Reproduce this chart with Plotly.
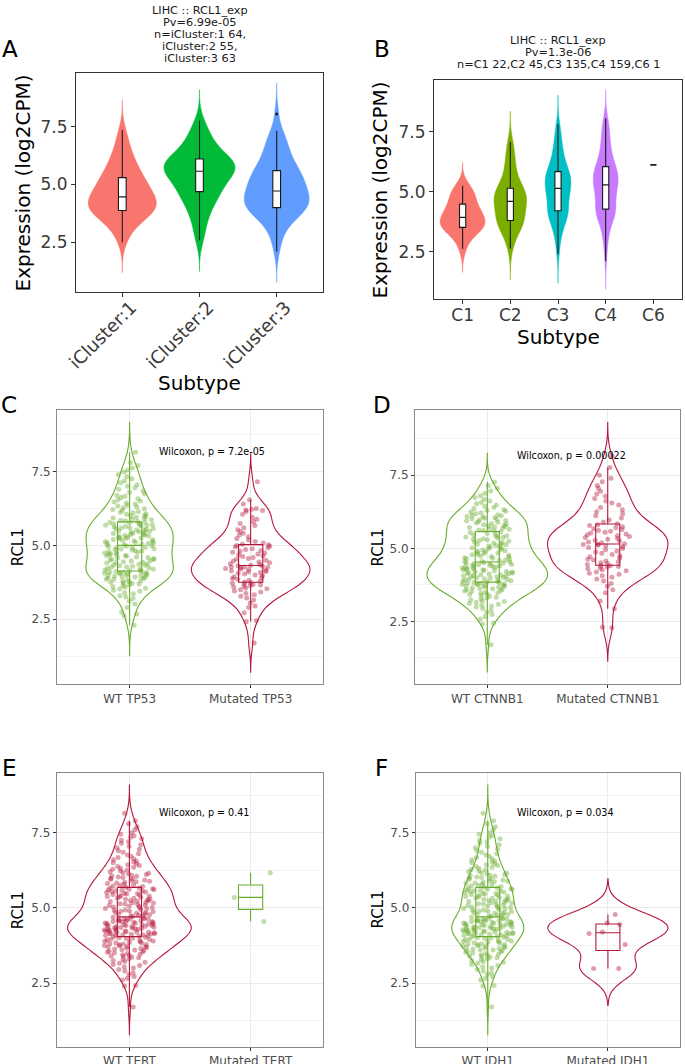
import numpy as np
import plotly.graph_objects as go

W, H = 685, 1064
FONT = "DejaVu Sans"

# ---------------- data ----------------
A_CATS = ["iCluster:1", "iCluster:2", "iCluster:3"]
A_ICL1 = [2.50, 2.72, 2.95, 3.10, 3.22, 3.35, 3.42, 3.50, 3.56, 3.62, 3.68, 3.72, 3.76, 3.79, 3.82, 3.85,
          3.88, 3.92, 3.96, 4.00, 4.04, 4.08, 4.11, 4.15, 4.19, 4.23, 4.27, 4.31, 4.35, 4.39, 4.42, 4.45,
          4.48, 4.53, 4.58, 4.63, 4.68, 4.73, 4.79, 4.85, 4.90, 4.96, 5.02, 5.07, 5.12, 5.18, 5.23, 5.28,
          5.34, 5.42, 5.50, 5.58, 5.67, 5.76, 5.86, 5.95, 6.05, 6.18, 6.30, 6.45, 6.62, 6.85, 7.10, 7.35]
A_ICL2 = [2.58, 2.85, 3.20, 3.45, 3.65, 3.82, 3.98, 4.10, 4.22, 4.33, 4.45, 4.55, 4.63, 4.68, 4.70,
          4.80, 4.90, 4.98, 5.06, 5.13, 5.20, 5.27, 5.33, 5.39, 5.44, 5.49, 5.53, 5.57,
          5.61, 5.65, 5.69, 5.73, 5.77, 5.81, 5.85, 5.89, 5.93, 5.97, 6.01, 6.05, 6.08, 6.12,
          6.18, 6.25, 6.33, 6.42, 6.52, 6.62, 6.73, 6.85, 6.98, 7.12, 7.28, 7.50, 7.75]
A_ICL3 = [2.10, 2.55, 2.85, 3.05, 3.22, 3.36, 3.48, 3.58, 3.66, 3.74, 3.80, 3.85, 3.89, 3.93, 3.96, 3.99, 4.01,
          4.06, 4.11, 4.16, 4.21, 4.26, 4.31, 4.36, 4.41, 4.46, 4.51, 4.56, 4.61, 4.65, 4.69, 4.72,
          4.77, 4.83, 4.89, 4.95, 5.01, 5.07, 5.13, 5.19, 5.25, 5.31, 5.37, 5.43, 5.49, 5.54, 5.58, 5.62,
          5.70, 5.80, 5.90, 6.00, 6.10, 6.20, 6.32, 6.44, 6.56, 6.70, 6.85, 7.00, 7.15, 7.32, 8.05]
A_TITLE = ["LIHC :: RCL1_exp", "Pv=6.99e-05", "n=iCluster:1 64,", "iCluster:2 55,", "iCluster:3 63"]

B_CATS = ["C1", "C2", "C3", "C4", "C6"]
B_C1 = [2.62, 3.05, 3.25, 3.38, 3.46, 3.50, 3.55, 3.65, 3.74, 3.82, 3.89, 3.97, 4.05, 4.14, 4.25, 4.38,
        4.52, 4.65, 4.80, 4.95, 5.10, 5.25]
B_C2 = [2.62, 2.95, 3.15, 3.30, 3.42, 3.52, 3.60, 3.66, 3.71, 3.75, 3.78, 3.80,
        3.88, 3.97, 4.06, 4.14, 4.22, 4.30, 4.38, 4.45, 4.51, 4.56, 4.60,
        4.65, 4.70, 4.75, 4.80, 4.86, 4.92, 4.98, 5.03, 5.08, 5.12, 5.15,
        5.25, 5.38, 5.52, 5.68, 5.85, 6.02, 6.20, 6.40, 6.62, 6.85, 7.09]
B_C3 = [2.39, 2.80, 3.05, 3.25, 3.40, 3.52, 3.62, 3.71, 3.79, 3.86, 3.93, 3.99, 4.04, 4.09, 4.13, 4.17, 4.20, 4.22,
        4.28, 4.35, 4.42, 4.49, 4.56, 4.63, 4.70, 4.76, 4.82, 4.88, 4.94, 4.99, 5.04, 5.08, 5.11, 5.14,
        5.18, 5.22, 5.27, 5.32, 5.37, 5.42, 5.47, 5.52, 5.56, 5.60, 5.64, 5.68, 5.72, 5.76, 5.80, 5.83, 5.85,
        5.92, 6.00, 6.08, 6.16, 6.25, 6.34, 6.44, 6.54, 6.65, 6.77, 6.90, 7.05, 7.22, 7.40, 7.60, 7.82]
B_C4 = [2.11, 2.60, 2.90, 3.10, 3.28, 3.42, 3.55, 3.65, 3.74, 3.82, 3.89, 3.95, 4.01, 4.06, 4.10, 4.14,
        4.18, 4.21, 4.24, 4.26, 4.28,
        4.34, 4.40, 4.46, 4.52, 4.58, 4.64, 4.70, 4.76, 4.82, 4.88, 4.94, 5.00, 5.05, 5.10, 5.14, 5.18,
        5.22, 5.25, 5.27, 5.31,
        5.35, 5.39, 5.43, 5.47, 5.51, 5.55, 5.59, 5.63, 5.67, 5.71, 5.75, 5.79, 5.83, 5.87, 5.91, 5.95,
        5.99, 6.02, 6.04, 6.08,
        6.15, 6.22, 6.30, 6.38, 6.46, 6.55, 6.64, 6.73, 6.83, 6.93, 7.04, 7.15, 7.27, 7.40, 7.53, 7.67,
        7.80, 7.93, 8.07]
B_C6 = [6.12]
B_TITLE = ["LIHC :: RCL1_exp", "Pv=1.3e-06", "n=C1 22,C2 45,C3 135,C4 159,C6 1"]

C_CATS = ["WT TP53", "Mutated TP53"]
C_WT = [2.30, 2.62, 2.68, 2.75, 2.90, 3.02, 3.12, 3.20, 3.25, 3.30, 3.36, 3.40, 3.45, 3.48, 3.52, 3.55,
        3.58, 3.61, 3.64, 3.66, 3.69, 3.71, 3.73, 3.75, 3.77, 3.79, 3.81, 3.83, 3.85, 3.86, 3.88, 3.90,
        3.91, 3.93, 3.94, 3.96, 3.97, 3.99, 4.00, 4.01, 4.03, 4.04, 4.05, 4.06, 4.07, 4.08, 4.09, 4.10,
        4.11, 4.12, 4.14,
        4.15, 4.17, 4.19, 4.20, 4.22, 4.24, 4.26, 4.27, 4.29, 4.31, 4.33, 4.34, 4.36, 4.38, 4.40, 4.42,
        4.43, 4.45, 4.47, 4.49, 4.50, 4.52, 4.54, 4.56, 4.58, 4.59, 4.61, 4.63, 4.65, 4.66, 4.68, 4.70,
        4.72, 4.74, 4.75, 4.77, 4.79, 4.81, 4.82, 4.84, 4.86, 4.88, 4.89, 4.91, 4.93, 4.94, 4.96, 4.97,
        4.99, 5.01,
        5.03, 5.04, 5.06, 5.08, 5.09, 5.11, 5.12, 5.14, 5.16, 5.17, 5.19, 5.20, 5.22, 5.24, 5.25, 5.27,
        5.28, 5.30, 5.32, 5.33, 5.35, 5.36, 5.38, 5.40, 5.41, 5.43, 5.44, 5.46, 5.48, 5.49, 5.51, 5.52,
        5.54, 5.56, 5.57, 5.59, 5.60, 5.62, 5.64, 5.65, 5.67, 5.68, 5.70, 5.71, 5.73, 5.74, 5.76, 5.77,
        5.79, 5.81,
        5.83, 5.85, 5.87, 5.89, 5.91, 5.93, 5.95, 5.97, 6.00, 6.02, 6.05, 6.07, 6.10, 6.12, 6.15, 6.18,
        6.21, 6.24, 6.27, 6.30, 6.33, 6.36, 6.40, 6.43, 6.47, 6.50, 6.54, 6.58, 6.62, 6.66, 6.70, 6.75,
        6.80, 6.85, 6.90, 6.95, 7.00, 7.05, 7.12, 7.18, 7.25, 7.32, 7.40, 7.48, 7.55, 7.62, 7.70, 7.80, 8.15]
C_MUT = [1.70, 2.42, 2.45, 2.72, 2.90, 2.95, 3.05, 3.15, 3.22, 3.28, 3.33, 3.38, 3.42, 3.46, 3.50, 3.53,
         3.56, 3.59, 3.62, 3.64, 3.66, 3.68, 3.70, 3.72, 3.74, 3.76,
         3.79, 3.82, 3.85, 3.88, 3.91, 3.94, 3.97, 4.00, 4.03, 4.06, 4.08, 4.10, 4.12, 4.14, 4.16, 4.18,
         4.20, 4.22, 4.24, 4.26, 4.27, 4.28, 4.29, 4.31, 4.33,
         4.35, 4.38, 4.41, 4.44, 4.47, 4.50, 4.53, 4.56, 4.59, 4.62, 4.65, 4.68, 4.71, 4.74, 4.77, 4.80,
         4.83, 4.86, 4.89, 4.92, 4.95, 4.98, 5.00, 5.02, 5.04,
         5.08, 5.13, 5.18, 5.23, 5.29, 5.35, 5.41, 5.47, 5.53, 5.60, 5.67, 5.74, 5.80, 5.88, 5.95, 6.05,
         6.15, 6.18, 6.20, 6.22, 6.25, 6.40, 6.54, 7.15]
C_P = "Wilcoxon, p = 7.2e-05"

D_CATS = ["WT CTNNB1", "Mutated CTNNB1"]
D_WT = [1.70, 2.40, 2.45, 2.58, 2.66, 2.74, 2.81, 2.88, 2.94, 2.99, 3.03, 3.06, 3.09, 3.12, 3.15, 3.18,
        3.21, 3.24, 3.27, 3.30, 3.33, 3.36, 3.39, 3.42, 3.44, 3.46, 3.48, 3.50, 3.52, 3.54, 3.56, 3.58,
        3.60, 3.62, 3.63, 3.65, 3.67, 3.68, 3.70, 3.71, 3.73, 3.74, 3.76, 3.77, 3.78, 3.79, 3.80, 3.81,
        3.82, 3.83, 3.85,
        3.86, 3.88, 3.89, 3.91, 3.92, 3.93, 3.95, 3.96, 3.98, 3.99, 4.00, 4.02, 4.03, 4.05, 4.06, 4.07,
        4.09, 4.10, 4.12, 4.13, 4.14, 4.16, 4.17, 4.19, 4.20, 4.21, 4.23, 4.24, 4.26, 4.27, 4.28, 4.30,
        4.31, 4.33, 4.34, 4.35, 4.37, 4.38, 4.40, 4.41, 4.42, 4.44, 4.45, 4.47, 4.48, 4.49, 4.50, 4.51,
        4.52, 4.54,
        4.56, 4.58, 4.60, 4.62, 4.64, 4.66, 4.68, 4.70, 4.72, 4.74, 4.76, 4.78, 4.80, 4.82, 4.84, 4.86,
        4.88, 4.90, 4.92, 4.94, 4.96, 4.98, 5.00, 5.02, 5.04, 5.06, 5.08, 5.10, 5.12, 5.14, 5.16, 5.18,
        5.20, 5.22, 5.25, 5.27, 5.29, 5.31, 5.33, 5.35, 5.37, 5.39, 5.41, 5.43, 5.46, 5.48, 5.51, 5.54,
        5.57, 5.59,
        5.61, 5.63, 5.65, 5.67, 5.69, 5.71, 5.73, 5.75, 5.77, 5.79, 5.81, 5.83, 5.85, 5.87, 5.89, 5.91,
        5.93, 5.95, 5.97, 5.99, 6.01, 6.03, 6.05, 6.07, 6.09, 6.11, 6.13, 6.15, 6.18, 6.21, 6.24, 6.27,
        6.30, 6.33, 6.36, 6.40, 6.44, 6.48, 6.52, 6.57, 6.62, 6.68, 6.74, 6.80, 6.88, 6.96, 7.05, 7.15, 7.27]
D_MUT = [2.28, 2.30, 2.93, 3.20, 3.48, 3.58, 3.70, 3.80, 3.88, 3.95, 4.01, 4.06, 4.11, 4.15, 4.19, 4.23,
         4.27, 4.30, 4.33, 4.36, 4.38, 4.40, 4.41, 4.45,
         4.48, 4.51, 4.54, 4.57, 4.60, 4.63, 4.67, 4.71, 4.75, 4.79, 4.83, 4.87, 4.91, 4.95, 4.99, 5.03,
         5.06, 5.09, 5.11, 5.13, 5.14, 5.16,
         5.19, 5.22, 5.25, 5.28, 5.31, 5.34, 5.37, 5.40, 5.43, 5.46, 5.49, 5.52, 5.55, 5.58, 5.61, 5.64,
         5.67, 5.70, 5.74, 5.78, 5.81, 5.84,
         5.90, 5.97, 6.04, 6.11, 6.18, 6.25, 6.32, 6.40, 6.48, 6.55, 6.62, 6.70, 6.78, 6.86, 6.95, 7.05,
         7.15, 7.28, 7.40, 7.50, 7.76, 8.15]
D_P = "Wilcoxon, p = 0.00022"

LIHC_ALL = [1.70, 2.40, 2.42, 2.60, 2.65, 2.72, 2.78, 2.84, 2.90, 2.95, 3.00, 3.04, 3.08, 3.12, 3.16, 3.19,
            3.22, 3.25, 3.28, 3.31, 3.34, 3.36, 3.38, 3.40, 3.42, 3.44, 3.46, 3.48, 3.50, 3.52, 3.54, 3.56,
            3.58, 3.60, 3.61, 3.63, 3.65, 3.66, 3.68, 3.69, 3.71, 3.72, 3.74, 3.75, 3.77, 3.78, 3.80, 3.81,
            3.83, 3.84, 3.86, 3.87, 3.89, 3.90, 3.92, 3.93, 3.95, 3.96, 3.98, 3.99, 4.01, 4.02, 4.04, 4.06,
            4.07, 4.08, 4.09, 4.10, 4.11, 4.12, 4.13, 4.14, 4.15, 4.16, 4.17, 4.18, 4.19, 4.20, 4.21, 4.22,
            4.23, 4.24, 4.25, 4.26, 4.27, 4.28, 4.29, 4.30, 4.31, 4.32, 4.33, 4.34, 4.35, 4.36, 4.37, 4.38,
            4.39, 4.40, 4.41, 4.42, 4.43, 4.44, 4.45, 4.46, 4.47, 4.48, 4.49, 4.50, 4.51, 4.52, 4.53, 4.54,
            4.55, 4.56, 4.57, 4.58, 4.59, 4.60, 4.61, 4.62, 4.63, 4.64, 4.65, 4.67, 4.69, 4.71,
            4.73, 4.74, 4.76, 4.77, 4.79, 4.81, 4.82, 4.84, 4.85, 4.87, 4.89, 4.90, 4.92, 4.93, 4.95, 4.97,
            4.98, 5.00, 5.01, 5.03, 5.05, 5.06, 5.08, 5.09, 5.11, 5.13, 5.14, 5.16, 5.17, 5.19, 5.21, 5.22,
            5.24, 5.25, 5.27, 5.29, 5.30, 5.32, 5.33, 5.35, 5.37, 5.38, 5.40, 5.41, 5.43, 5.45, 5.46, 5.48,
            5.49, 5.51, 5.53, 5.54, 5.56, 5.57, 5.59, 5.60, 5.61, 5.62, 5.64, 5.65, 5.66, 5.69,
            5.71, 5.73, 5.75, 5.77, 5.79, 5.81, 5.83, 5.85, 5.87, 5.89, 5.91, 5.93, 5.95, 5.97, 5.99, 6.01,
            6.03, 6.05, 6.07, 6.09, 6.11, 6.13, 6.15, 6.17, 6.20, 6.23, 6.26, 6.29, 6.32, 6.35, 6.38, 6.41,
            6.44, 6.47, 6.50, 6.53, 6.56, 6.60, 6.64, 6.68, 6.72, 6.76, 6.80, 6.85, 6.90, 6.95, 7.00, 7.05,
            7.10, 7.15, 7.20, 7.25, 7.30, 7.35, 7.40, 7.45, 7.50, 7.60, 7.70, 7.80, 7.90, 8.15]

E_CATS = ["WT TERT", "Mutated TERT"]
E_WT = LIHC_ALL
E_MUT = [4.55, 5.35, 6.17]
E_P = "Wilcoxon, p = 0.41"

F_CATS = ["WT IDH1", "Mutated IDH1"]
F_WT = LIHC_ALL
F_MUT = [2.98, 2.98, 3.78, 4.15, 4.20, 4.45, 4.50, 4.78]
F_P = "Wilcoxon, p = 0.034"

Y_TICKS = [2.5, 5.0, 7.5]

# ---------------- styles ----------------
A_COLORS = ["#F8766D", "#00BA38", "#619CFF"]
B_COLORS = ["#F8766D", "#7CAE00", "#00BFC4", "#C77CFF"]
GREEN = "#69AC2D"
RED = "#B5173B"
GREEN_PT = "rgba(105,172,45,0.42)"
RED_PT = "rgba(181,23,59,0.42)"


def px_x(p):
    return p / W


def px_y(p):
    return 1 - p / H


def box_stats(vals):
    """ggplot-style (type-7 quantile) box statistics."""
    v = np.asarray(vals, dtype=float)
    q1, med, q3 = np.percentile(v, [25, 50, 75])
    iqr = q3 - q1
    inside = v[(v >= q1 - 1.5 * iqr) & (v <= q3 + 1.5 * iqr)]
    outl = v[(v < q1 - 1.5 * iqr) | (v > q3 + 1.5 * iqr)]
    return q1, med, q3, inside.min(), inside.max(), list(outl)


fig = go.Figure()


def ax_names(i):
    return ("x" if i == 1 else f"x{i}"), ("y" if i == 1 else f"y{i}")


def add_box(xa, ya, cat, vals, width, fill, col, lw, show_outliers=False):
    q1, med, q3, lo, hi, outl = box_stats(vals)
    fig.add_trace(go.Box(
        x=[cat], q1=[q1], median=[med], q3=[q3], lowerfence=[lo], upperfence=[hi],
        xaxis=xa, yaxis=ya, width=width, fillcolor=fill, line=dict(color=col, width=lw),
        whiskerwidth=0, showlegend=False, hoverinfo="skip"))
    if show_outliers and outl:
        fig.add_trace(go.Scatter(x=[cat] * len(outl), y=outl, xaxis=xa, yaxis=ya, mode="markers",
                                 marker=dict(color=col, size=3), showlegend=False, hoverinfo="skip"))


def add_solid(i, cats, groups, colors, widths, bws, spans, boxw):
    xa, ya = ax_names(i)
    for cat, vals, col, w, bw, sp in zip(cats, groups, colors, widths, bws, spans):
        fig.add_trace(go.Violin(
            x=[cat] * len(vals), y=vals, xaxis=xa, yaxis=ya, fillcolor=col, scalegroup=f"{i}-{cat}",
            line=dict(color=col, width=0.5), width=w, bandwidth=bw, spanmode="manual", span=sp,
            points=False, showlegend=False, hoverinfo="skip", opacity=1))
        add_box(xa, ya, cat, vals, boxw, "white", "#1a1a1a", 1.1, show_outliers=True)


def add_outline(i, cat, vals, col, ptcol, w, bw, sp, jit, show_violin=True):
    xa, ya = ax_names(i)
    fig.add_trace(go.Violin(
        x=[cat] * len(vals), y=vals, xaxis=xa, yaxis=ya, fillcolor="rgba(255,255,255,0)",
        scalegroup=f"{i}-{cat}",
        line=dict(color=col if show_violin else "rgba(0,0,0,0)", width=1.1 if show_violin else 0),
        width=w, bandwidth=bw, spanmode="manual", span=sp,
        points="all", pointpos=0, jitter=jit,
        marker=dict(color=ptcol, size=5, line=dict(width=0)),
        showlegend=False, hoverinfo="skip"))
    add_box(xa, ya, cat, vals, 0.2, "rgba(255,255,255,0)", col, 1.1)


# Panel A
add_solid(1, A_CATS, [A_ICL1, A_ICL2, A_ICL3], A_COLORS, [0.88, 0.92, 0.84], [0.44, 0.45, 0.45],
          [[1.19, 8.67], [1.24, 9.1], [0.77, 9.4]], 0.1)
# Panel B
add_solid(2, B_CATS[:4], [B_C1, B_C2, B_C3, B_C4], B_COLORS, [0.94, 0.68, 0.54, 0.52],
          [0.33, 0.43, 0.40, 0.40], [[1.63, 6.23], [1.32, 8.37], [1.18, 9.04], [0.93, 9.26]], 0.13)
add_box("x2", "y2", B_CATS[4], B_C6, 0.13, "white", "#1a1a1a", 1.8)
# Panel C
add_outline(3, C_CATS[0], C_WT, GREEN, GREEN_PT, 0.72, 0.34, [1.28, 9.16], 0.58)
add_outline(3, C_CATS[1], C_MUT, RED, RED_PT, 0.98, 0.33, [0.71, 8.1], 0.43)
# Panel D
add_outline(4, D_CATS[0], D_WT, GREEN, GREEN_PT, 1.0, 0.32, [0.77, 8.25], 0.42)
add_outline(4, D_CATS[1], D_MUT, RED, RED_PT, 1.0, 0.38, [1.14, 9.3], 0.42)
# Panel E
add_outline(5, E_CATS[0], E_WT, RED, RED_PT, 1.02, 0.31, [0.78, 9.09], 0.41)
add_outline(5, E_CATS[1], E_MUT, GREEN, GREEN_PT, 0.42, 0.5, [4.0, 6.7], 1.0, show_violin=False)
# Panel F
add_outline(6, F_CATS[0], F_WT, GREEN, GREEN_PT, 0.6, 0.31, [0.78, 9.09], 0.7)
add_outline(6, F_CATS[1], F_MUT, RED, RED_PT, 1.0, 0.39, [1.75, 5.97], 0.42)

# ---------------- layout ----------------
panels = {
    1: dict(x=(76, 323), y=(73, 292), yr=[0.35, 9.82], cats=A_CATS, xr=[-0.6, 2.6], style="solid"),
    2: dict(x=(434, 682), y=(80, 299), yr=[0.52, 9.67], cats=B_CATS, xr=[-0.6, 4.6], style="solid"),
    3: dict(x=(57, 323.3), y=(410, 684.3), yr=[0.30, 9.58], cats=C_CATS, xr=[-0.6, 1.6], style="bw"),
    4: dict(x=(415, 680), y=(410, 684.3), yr=[0.35, 9.73], cats=D_CATS, xr=[-0.6, 1.6], style="bw"),
    5: dict(x=(56.7, 323.3), y=(772.7, 1046.7), yr=[0.38, 9.5], cats=E_CATS, xr=[-0.6, 1.6], style="bw"),
    6: dict(x=(415.7, 680), y=(772.7, 1046.7), yr=[0.38, 9.5], cats=F_CATS, xr=[-0.6, 1.6], style="bw"),
}

layout = dict(
    width=W, height=H, margin=dict(l=0, r=0, t=0, b=0, autoexpand=False),
    paper_bgcolor="white", plot_bgcolor="white",
    font=dict(family=FONT, color="#1a1a1a"),
    violinmode="overlay", boxmode="overlay", hovermode=False, showlegend=False,
)

for i, p in panels.items():
    xk = "xaxis" if i == 1 else f"xaxis{i}"
    yk = "yaxis" if i == 1 else f"yaxis{i}"
    xa, ya = ax_names(i)
    solid = p["style"] == "solid"
    tick_font = dict(family=FONT, size=17 if solid else 12, color="#3a3a3a" if solid else "#4D4D4D")
    border = "#333333" if solid else "#8a8a8a"
    layout[xk] = dict(
        domain=[px_x(p["x"][0]), px_x(p["x"][1])], anchor=ya, type="category",
        categoryorder="array", categoryarray=p["cats"], range=p["xr"], automargin=False,
        showline=True, mirror=True, linecolor=border, linewidth=1,
        ticks="outside", ticklen=4 if solid else 3, tickcolor="#333333", tickwidth=1,
        tickfont=tick_font, showgrid=not solid, gridcolor="#EBEBEB", gridwidth=1.1,
        zeroline=False, tickangle=-45 if i == 1 else 0, fixedrange=True)
    if i == 1:
        layout[xk]["tickfont"] = dict(family=FONT, size=18, color="#3a3a3a")
        layout[xk]["ticklabelshift"] = 9
        layout[xk]["ticklabelstandoff"] = -7
    if i == 2:
        layout[xk]["ticklabelstandoff"] = -3
    layout[yk] = dict(
        domain=[px_y(p["y"][1]), px_y(p["y"][0])], anchor=xa, range=p["yr"], automargin=False,
        tickvals=Y_TICKS, tickformat=".1f",
        showline=True, mirror=True, linecolor=border, linewidth=1,
        ticks="outside", ticklen=4 if solid else 3, tickcolor="#333333", tickwidth=1,
        tickfont=tick_font, showgrid=not solid, gridcolor="#EBEBEB", gridwidth=1.1,
        zeroline=False, fixedrange=True)
    if not solid:
        layout[yk]["minor"] = dict(tickvals=[1.25, 3.75, 6.25, 8.75], showgrid=True,
                                   gridcolor="#F3F3F3", gridwidth=0.6, ticks="")

ann = []
# panel letters
for lab, cx, cy in [("A", 9.5, 48.5), ("B", 381.5, 48.5), ("C", 9, 405), ("D", 381.5, 405),
                    ("E", 9, 767.5), ("F", 381.5, 767.5)]:
    ann.append(dict(text=lab, x=px_x(cx), y=px_y(cy), xref="paper", yref="paper",
                    xanchor="center", yanchor="middle", showarrow=False,
                    font=dict(family=FONT, size=23, color="#000000")))
# titles
for k, line in enumerate(A_TITLE):
    ann.append(dict(text=line, x=px_x(200), y=px_y(10.3 + 12.1 * k), xref="paper", yref="paper",
                    xanchor="center", yanchor="middle", showarrow=False,
                    font=dict(family=FONT, size=11.3, color="#1a1a1a")))
for k, line in enumerate(B_TITLE):
    ann.append(dict(text=line, x=px_x(558), y=px_y(40 + 12.1 * k), xref="paper", yref="paper",
                    xanchor="center", yanchor="middle", showarrow=False,
                    font=dict(family=FONT, size=11.3, color="#1a1a1a")))
# axis titles
for txt, cx, cy, size in [("Expression (log2CPM)", 22.5, 183, 20), ("Expression (log2CPM)", 379.5, 190, 20),
                          ("RCL1", 18.3, 547, 15), ("RCL1", 377.5, 548, 15),
                          ("RCL1", 18.3, 910, 15), ("RCL1", 377.5, 910, 15)]:
    ann.append(dict(text=txt, x=px_x(cx), y=px_y(cy), xref="paper", yref="paper", textangle=-90,
                    xanchor="center", yanchor="middle", showarrow=False,
                    font=dict(family=FONT, size=size, color="#000000")))
for cx, cy in [(200, 383), (558, 337)]:
    ann.append(dict(text="Subtype", x=px_x(cx), y=px_y(cy), xref="paper", yref="paper",
                    xanchor="center", yanchor="middle", showarrow=False,
                    font=dict(family=FONT, size=20, color="#000000")))
# wilcoxon labels
for i, txt in [(3, C_P), (4, D_P), (5, E_P), (6, F_P)]:
    xa, ya = ax_names(i)
    ann.append(dict(text=txt, x=0.23, y=8.17, xref=xa, yref=ya, xanchor="left", yanchor="middle",
                    showarrow=False, font=dict(family=FONT, size=9.6, color="#000000")))
layout["annotations"] = ann

fig.update_layout(**layout)
fig.write_html("out.html", config={"displayModeBar": False},
               post_script="document.body.style.margin='0';document.body.style.overflow='hidden';")
